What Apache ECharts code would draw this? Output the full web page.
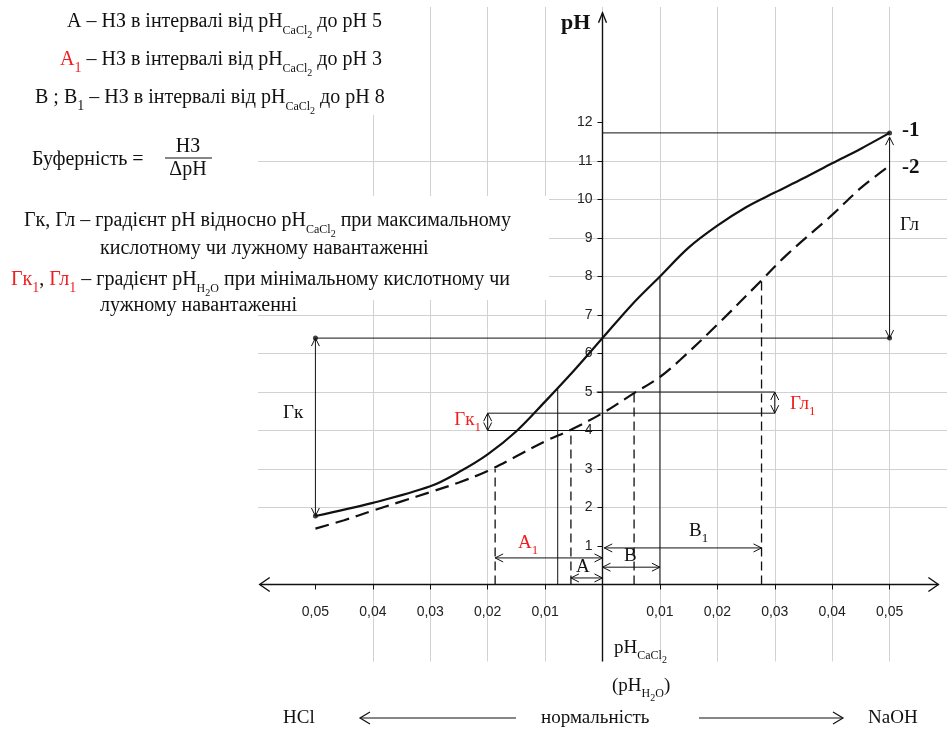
<!DOCTYPE html>
<html><head><meta charset="utf-8">
<script src="https://cdn.jsdelivr.net/npm/echarts@6/dist/echarts.min.js"></script>
<style>html,body{margin:0;padding:0;background:#fff}#c{width:947px;height:733px}</style>
</head><body><div id="c"></div>
<script>
// x = normality (negative: HCl load, positive: NaOH load), y = pH
const curve1X = [-0.05, -0.04, -0.03, -0.025, -0.02, -0.015, -0.01, -0.005, 0, 0.005, 0.01, 0.015, 0.02, 0.025, 0.03, 0.035, 0.04, 0.045, 0.05];
const curve1Y = [1.78, 2.12, 2.55, 2.92, 3.38, 3.98, 4.75, 5.55, 6.4, 7.25, 8.0, 8.75, 9.32, 9.8, 10.18, 10.55, 10.94, 11.32, 11.73];
const curve2X = [-0.05, -0.045, -0.04, -0.035, -0.03, -0.025, -0.02, -0.015, -0.01, -0.0055, 0, 0.0055, 0.01, 0.0135, 0.02, 0.0277, 0.032, 0.04, 0.045, 0.05];
const curve2Y = [1.45, 1.67, 1.92, 2.16, 2.40, 2.65, 2.95, 3.33, 3.72, 4.02, 4.45, 4.97, 5.39, 5.83, 6.75, 7.9, 8.55, 9.6, 10.3, 10.88];

const xTickValues = [-0.05, -0.04, -0.03, -0.02, -0.01, 0, 0.01, 0.02, 0.03, 0.04, 0.05];
const xLabelValues = [-0.05, -0.04, -0.03, -0.02, -0.01, 0.01, 0.02, 0.03, 0.04, 0.05];
const yTickValues = [1, 2, 3, 4, 5, 6, 7, 8, 9, 10, 11, 12];

// guide lines [x1, pH1, x2, pH2]
const thinLines = [
  [0, 11.73, 0.05, 11.73],
  [-0.05, 6.4, 0.05, 6.4],
  [-0.02, 4.0, 0, 4.0],
  [-0.02, 4.45, 0.03, 4.45],
  [-0.001, 5.0, 0.03, 5.0],
  [-0.0078, 0, -0.0078, 5.1],
  [0.01, 0, 0.01, 8.0]
];
const dashedLines = [
  [-0.0187, 0, -0.0187, 3.0],
  [-0.0055, 0, -0.0055, 4.0],
  [0.0055, 0, 0.0055, 5.0],
  [0.0277, 0, 0.0277, 7.9]
];
const doubleArrows = [
  [-0.05, 1.78, -0.05, 6.4],
  [0.05, 6.4, 0.05, 11.62],
  [-0.02, 4.0, -0.02, 4.45],
  [0.03, 4.45, 0.03, 5.0],
  [-0.0187, 0.69, 0, 0.69],
  [-0.0055, 0.17, 0, 0.17],
  [0, 0.45, 0.01, 0.45],
  [0.0003, 0.95, 0.0277, 0.95]
];
const markerDots = [[-0.05, 6.4], [-0.05, 1.78], [0.05, 11.73], [0.05, 6.4]];
const xAxisLine = [[-0.0597, 0, 0.0585, 0]];
const yAxisLine = [[0, -2, 0, 14.85]];

const SERIF = "'Liberation Serif','DejaVu Serif',serif";
const SANS = "'Liberation Sans','DejaVu Sans',sans-serif";
const RED = '#f01e1e';
const INK = '#111';

function chevron(tip, from, len, half) {
  const dx = tip[0] - from[0], dy = tip[1] - from[1];
  const L = Math.hypot(dx, dy) || 1;
  const ux = dx / L, uy = dy / L;
  const bx = tip[0] - ux * len, by = tip[1] - uy * len;
  return [[bx - uy * half, by + ux * half], [tip[0], tip[1]], [bx + uy * half, by - ux * half]];
}
function segRenderer(o) {
  return function (params, api) {
    const a = api.coord([api.value(0), api.value(1)]);
    const b = api.coord([api.value(2), api.value(3)]);
    const ch = [{ type: 'line', shape: { x1: a[0], y1: a[1], x2: b[0], y2: b[1] },
      style: { stroke: INK, lineWidth: o.w, lineDash: o.dash || null, fill: null } }];
    if (o.headEnd) ch.push({ type: 'polyline', shape: { points: chevron(b, a, o.len, o.half) }, style: { stroke: INK, fill: null, lineWidth: o.w } });
    if (o.headStart) ch.push({ type: 'polyline', shape: { points: chevron(a, b, o.len, o.half) }, style: { stroke: INK, fill: null, lineWidth: o.w } });
    return { type: 'group', children: ch };
  };
}
function pairs(xs, ys) { return xs.map((x, i) => [x, ys[i]]); }
function fmtX(v) { return Math.abs(v).toFixed(2).replace('.', ','); }

function rich(size) {
  const lh = size + 6;
  return {
    n: { fontFamily: SERIF, fontSize: size, fill: INK, lineHeight: lh },
    r: { fontFamily: SERIF, fontSize: size, fill: RED, lineHeight: lh },
    s: { fontFamily: SERIF, fontSize: Math.round(size * 0.62), fill: INK, lineHeight: lh, padding: [Math.round(size * 0.85), 0, 0, 0] },
    rs: { fontFamily: SERIF, fontSize: Math.round(size * 0.7), fill: RED, lineHeight: lh, padding: [Math.round(size * 0.85), 0, 0, 0] },
    bs: { fontFamily: SERIF, fontSize: Math.round(size * 0.7), fill: INK, lineHeight: lh, padding: [Math.round(size * 0.85), 0, 0, 0] },
    s2: { fontFamily: SERIF, fontSize: Math.round(size * 0.5), fill: INK, lineHeight: lh, padding: [Math.round(size * 1.3), 0, 0, 0] }
  };
}
function txt(x, y, text, size, opts) {
  opts = opts || {};
  return { type: 'text', x: x, y: y, z: 20, silent: true,
    style: { text: text, rich: rich(size), fontFamily: SERIF, fontSize: size, fill: opts.fill || INK,
      fontWeight: opts.bold ? 'bold' : 'normal',
      align: opts.align || 'left', textAlign: opts.align || 'left',
      verticalAlign: 'middle', textVerticalAlign: 'middle' } };
}
function plain(x, y, text, size, bold) {
  return { type: 'text', x: x, y: y, z: 20, silent: true,
    style: { text: text, fontFamily: SERIF, fontSize: size, fontWeight: bold ? 'bold' : 'normal', fill: INK,
      verticalAlign: 'middle', textVerticalAlign: 'middle' } };
}

const T = 20;
const graphics = [
  { type: 'rect', z: 10, silent: true, shape: { x: 0, y: 0, width: 400, height: 115 }, style: { fill: '#fff' } },
  { type: 'rect', z: 10, silent: true, shape: { x: 0, y: 196, width: 549, height: 104 }, style: { fill: '#fff' } },
  txt(67, 22, '{n|A – НЗ в інтервалі від pH}{s|CaCl}{s2|2}{n| до pH 5}', T),
  txt(60, 60, '{r|A}{rs|1}{n| – НЗ в інтервалі від pH}{s|CaCl}{s2|2}{n| до pH 3}', T),
  txt(35, 98, '{n|B ; B}{bs|1}{n| – НЗ в інтервалі від pH}{s|CaCl}{s2|2}{n| до pH 8}', T),
  txt(32, 160, '{n|Буферність =}', T),
  txt(188, 147, '{n|НЗ}', T, { align: 'center' }),
  { type: 'line', z: 20, silent: true, shape: { x1: 165, y1: 158, x2: 212, y2: 158 }, style: { stroke: INK, lineWidth: 1 } },
  txt(188, 170, '{n|ΔpH}', T, { align: 'center' }),
  txt(24, 221, '{n|Гк, Гл – градієнт pH відносно pH}{s|CaCl}{s2|2}{n| при максимальному}', T),
  txt(100, 249, '{n|кислотному чи лужному навантаженні}', T),
  txt(11, 280, '{r|Гк}{rs|1}{n|, }{r|Гл}{rs|1}{n| – градієнт pH}{s|H}{s2|2}{s|O}{n| при мінімальному кислотному чи}', T),
  txt(100, 306, '{n|лужному навантаженні}', T),
  // plot annotations
  plain(561, 23, 'pH', 22, true),
  plain(902, 131, '-1', 21, true),
  plain(902, 168, '-2', 21, true),
  txt(900, 225, '{n|Гл}', 19),
  txt(283, 413, '{n|Гк}', 19),
  txt(481, 420, '{r|Гк}{rs|1}', 19, { align: 'right' }),
  txt(790, 404, '{r|Гл}{rs|1}', 19),
  txt(518, 543, '{r|A}{rs|1}', 19),
  txt(576, 567, '{n|A}', 19),
  txt(624, 556, '{n|B}', 19),
  txt(689, 531, '{n|B}{bs|1}', 19),
  txt(614, 648, '{n|pH}{s|CaCl}{s2|2}', 19),
  txt(612, 686, '{n|(pH}{s|H}{s2|2}{s|O}{n|)}', 19),
  txt(283, 718, '{n|HCl}', 19),
  txt(541, 718, '{n|нормальність}', 19),
  txt(868, 718, '{n|NaOH}', 19),
  { type: 'polyline', z: 20, silent: true, shape: { points: [[516, 718], [360, 718]] }, style: { stroke: INK, lineWidth: 1.2, fill: null } },
  { type: 'polyline', z: 20, silent: true, shape: { points: [[370, 712], [360, 718], [370, 724]] }, style: { stroke: INK, lineWidth: 1.2, fill: null } },
  { type: 'polyline', z: 20, silent: true, shape: { points: [[699, 718], [843, 718]] }, style: { stroke: INK, lineWidth: 1.2, fill: null } },
  { type: 'polyline', z: 20, silent: true, shape: { points: [[833, 712], [843, 718], [833, 724]] }, style: { stroke: INK, lineWidth: 1.2, fill: null } }
];

const chart = echarts.init(document.getElementById('c'), null, { renderer: 'canvas' });
chart.setOption({
  animation: false,
  backgroundColor: '#fff',
  grid: { left: 258, top: 7, width: 694, height: 654.5, containLabel: false },
  xAxis: {
    type: 'value', min: -0.06, max: 0.06, interval: 0.01,
    axisLine: { show: true, onZero: true, lineStyle: { color: 'rgba(0,0,0,0)' } },
    axisTick: { show: true, customValues: xTickValues, length: 5, lineStyle: { color: INK, width: 1 } },
    axisLabel: { show: false },
    splitLine: { show: true, showMinLine: false, lineStyle: { color: '#d2d2d2', width: 1 } }
  },
  yAxis: {
    type: 'value', min: -2, max: 15, interval: 1,
    axisLine: { show: true, onZero: true, lineStyle: { color: 'rgba(0,0,0,0)' } },
    axisTick: { show: true, customValues: yTickValues, length: 5, lineStyle: { color: INK, width: 1 } },
    axisLabel: { show: false },
    splitLine: { show: true, showMinLine: false, showMaxLine: false, lineStyle: { color: '#d2d2d2', width: 1 } }
  },
  graphic: graphics,
  series: [
    { type: 'custom', z: 3, silent: true, data: thinLines, renderItem: segRenderer({ w: 1 }) },
    { type: 'custom', z: 3, silent: true, data: dashedLines, renderItem: segRenderer({ w: 1.3, dash: [9, 5] }) },
    { type: 'custom', z: 3, silent: true, data: doubleArrows, renderItem: segRenderer({ w: 1, headStart: true, headEnd: true, len: 8, half: 4 }) },
    { type: 'custom', z: 4, silent: true, data: xAxisLine, renderItem: segRenderer({ w: 1.4, headStart: true, headEnd: true, len: 10, half: 7 }) },
    { type: 'custom', z: 4, silent: true, data: yAxisLine, renderItem: segRenderer({ w: 1.4, headEnd: true, len: 10, half: 4 }) },
    { type: 'custom', z: 4, silent: true, data: xLabelValues.map(v => [v, 0]),
      renderItem: function (params, api) {
        const c = api.coord([api.value(0), api.value(1)]);
        return { type: 'text', x: c[0], y: c[1] + 28,
          style: { text: fmtX(api.value(0)), fontFamily: SANS, fontSize: 14, fill: '#222', align: 'center', verticalAlign: 'middle' } };
      } },
    { type: 'custom', z: 4, silent: true, data: yTickValues.map(v => [0, v]),
      renderItem: function (params, api) {
        const c = api.coord([api.value(0), api.value(1)]);
        return { type: 'text', x: c[0] - 10, y: c[1],
          style: { text: String(api.value(1)), fontFamily: SANS, fontSize: 14, fill: '#222', align: 'right', verticalAlign: 'middle' } };
      } },
    { type: 'line', z: 5, silent: true, data: pairs(curve1X, curve1Y), smooth: 0.35, showSymbol: false, symbol: 'none',
      lineStyle: { color: INK, width: 2.2 } },
    { type: 'line', z: 5, silent: true, data: pairs(curve2X, curve2Y), smooth: 0.35, showSymbol: false, symbol: 'none',
      lineStyle: { color: INK, width: 2.2, type: [14, 7] } },
    { type: 'scatter', z: 6, silent: true, data: markerDots, symbolSize: 5, itemStyle: { color: INK } }
  ]
});
</script></body></html>
